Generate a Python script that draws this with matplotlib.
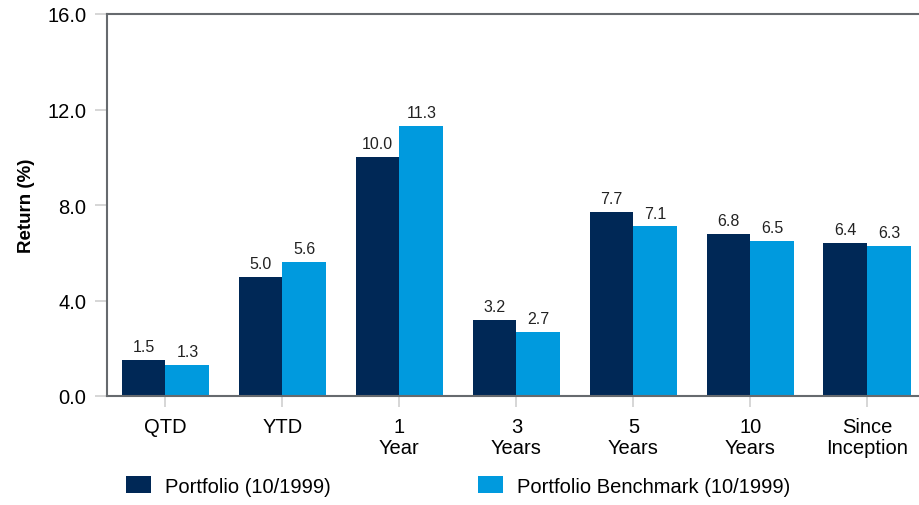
import matplotlib
matplotlib.use("Agg")
import matplotlib.pyplot as plt
import numpy as np
from matplotlib.patches import Patch

plt.rcParams["font.family"] = ["Liberation Sans", "DejaVu Sans"]

# ── Data ──────────────────────────────────────────────────────────────────────
categories = ["QTD", "YTD", "1\nYear", "3\nYears", "5\nYears", "10\nYears", "Since\nInception"]
portfolio = [1.5, 5.0, 10.0, 3.2, 7.7, 6.8, 6.4]
benchmark = [1.3, 5.6, 11.3, 2.7, 7.1, 6.5, 6.3]
series_names = ["Portfolio (10/1999)", "Portfolio Benchmark (10/1999)"]
y_ticks = [0.0, 4.0, 8.0, 12.0, 16.0]

DARK = "#002856"
LIGHT = "#009ADE"

fig = plt.figure(figsize=(9.2, 5.06), dpi=100)
ax = fig.add_axes([107 / 920, 109 / 506, 1 - 107 / 920, 382 / 506])

x = np.arange(len(categories))
w = 0.375
b1 = ax.bar(x - w / 2, portfolio, w, color=DARK)
b2 = ax.bar(x + w / 2, benchmark, w, color=LIGHT)

for bars, vals in ((b1, portfolio), (b2, benchmark)):
    for rect, v in zip(bars, vals):
        ax.text(rect.get_x() + rect.get_width() / 2, v + 0.25, f"{v:.1f}",
                ha="center", va="bottom", fontsize=11.5, color="#222222")

ax.set_xlim(-0.5, 6.45)
ax.set_ylim(0, 16)
ax.set_yticks(y_ticks)
ax.set_yticklabels([f"{t:.1f}" for t in y_ticks], fontsize=14.5)
ax.set_xticks(x)
ax.set_xticklabels(categories, fontsize=14.5, linespacing=1.15)
ax.tick_params(axis="x", length=8, width=1.2, color="#d0d0d0", pad=7)
ax.tick_params(axis="y", length=9, width=1.2, color="#d0d0d0", pad=6)
ax.set_ylabel("Return (%)", fontsize=13.5, fontweight="bold", labelpad=9)

for side in ("left", "top", "bottom"):
    ax.spines[side].set_color("#666a6e")
    ax.spines[side].set_linewidth(1.5)
ax.spines["right"].set_visible(False)

handles = [Patch(facecolor=DARK), Patch(facecolor=LIGHT)]
fig.legend(handles, series_names, loc="center left", bbox_to_anchor=(108 / 920, 19 / 506),
           ncol=2, frameon=False, fontsize=14.5, handlelength=1.25, handleheight=0.9,
           handletextpad=0.7, columnspacing=7.3)

fig.savefig("out.png", dpi=100)
